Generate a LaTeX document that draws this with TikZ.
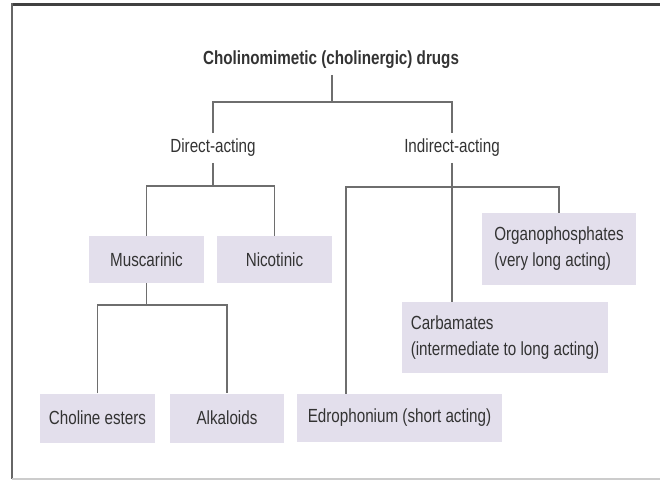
\documentclass[tikz,border=0pt]{standalone}
\usepackage{fontspec}
\setmainfont{Liberation Sans}[FakeStretch=0.8]
\usetikzlibrary{positioning}
\definecolor{boxfill}{HTML}{E3DFEC}
\definecolor{linegray}{HTML}{6E6E6E}
\definecolor{textgray}{HTML}{333333}
\tikzset{
  drugbox/.style={rectangle, fill=boxfill, text=textgray, inner xsep=7pt, inner ysep=4pt,
                  font=\fontsize{19}{26}\selectfont},
  grouplabel/.style={rectangle, text=textgray, inner xsep=3pt, inner ysep=6pt,
                     text height=13.5pt, text depth=4pt, font=\fontsize{19}{26}\selectfont},
  branch/.style={draw=linegray, line width=1.5pt}
}

\begin{document}
\begin{tikzpicture}[x=1pt,y=-1pt]
      \useasboundingbox (0,0) rectangle (660,480);

      % Draw frame.
      \draw[line width=3pt, black!75] (11,4) -- (660,4);
      \draw[line width=2pt, black!60] (12,3) -- (12,479);
      \draw[line width=1.5pt, black!20] (12,479) -- (660,479);

      % Title and the two groups.
      \node[grouplabel, font=\bfseries\fontsize{19}{26}\selectfont] (cholinomimetic) at (331,60)
      {Cholinomimetic (cholinergic) drugs};
      \node[grouplabel] (direct) at (213,148) {Direct-acting};
      \node[grouplabel] (indirect) at (452,148) {Indirect-acting};

      % Drug boxes.
      \node[drugbox, minimum width=115pt, minimum height=47pt] (muscarinic) at (146.5,259.5) {Muscarinic};
      \node[drugbox, minimum width=115pt, minimum height=47pt] (nicotinic) at (274.5,259.5) {Nicotinic};
      \node[drugbox, minimum width=154pt, minimum height=72pt, align=left]
      (organophosphates) at (559,249) {Organophosphates\\(very long acting)};
      \node[drugbox, minimum width=206pt, minimum height=71pt, align=left]
      (carbamates) at (505,337.5) {Carbamates\\(intermediate to long acting)};
      \node[drugbox, minimum width=115pt, minimum height=49pt] (cholineesters) at (97.5,418) {Choline esters};
      \node[drugbox, minimum width=114pt, minimum height=49pt] (alkaloids) at (227,418) {Alkaloids};
      \node[drugbox, minimum width=205pt, minimum height=48pt] (edrophonium) at (399.5,418)
      {Edrophonium (short acting)};

      % Split points of the tree.
      \coordinate (topsplit) at (332,102);
      \coordinate (directsplit) at (213,186);
      \coordinate (indirectsplit) at (346,187);
      \coordinate (muscarinicsplit) at (146.5,305);

      % Draw branches.
      \draw[branch] (cholinomimetic.south -| topsplit) -- (topsplit);
      \draw[branch] (direct.north) |- (topsplit) -| (indirect.north);

      \draw[branch] (direct.south) -- (directsplit);
      \draw[branch] (muscarinic.north) |- (directsplit) -| (nicotinic.north);

      \draw[branch] (indirect.south) -- (carbamates.north -| indirect.south);
      \draw[branch] (edrophonium.north -| indirectsplit) -- (indirectsplit)
      -| (organophosphates.north);

      \draw[branch] (muscarinic.south) -- (muscarinicsplit);
      \draw[branch] (cholineesters.north) |- (muscarinicsplit) -| (alkaloids.north);

\end{tikzpicture}
\end{document}
